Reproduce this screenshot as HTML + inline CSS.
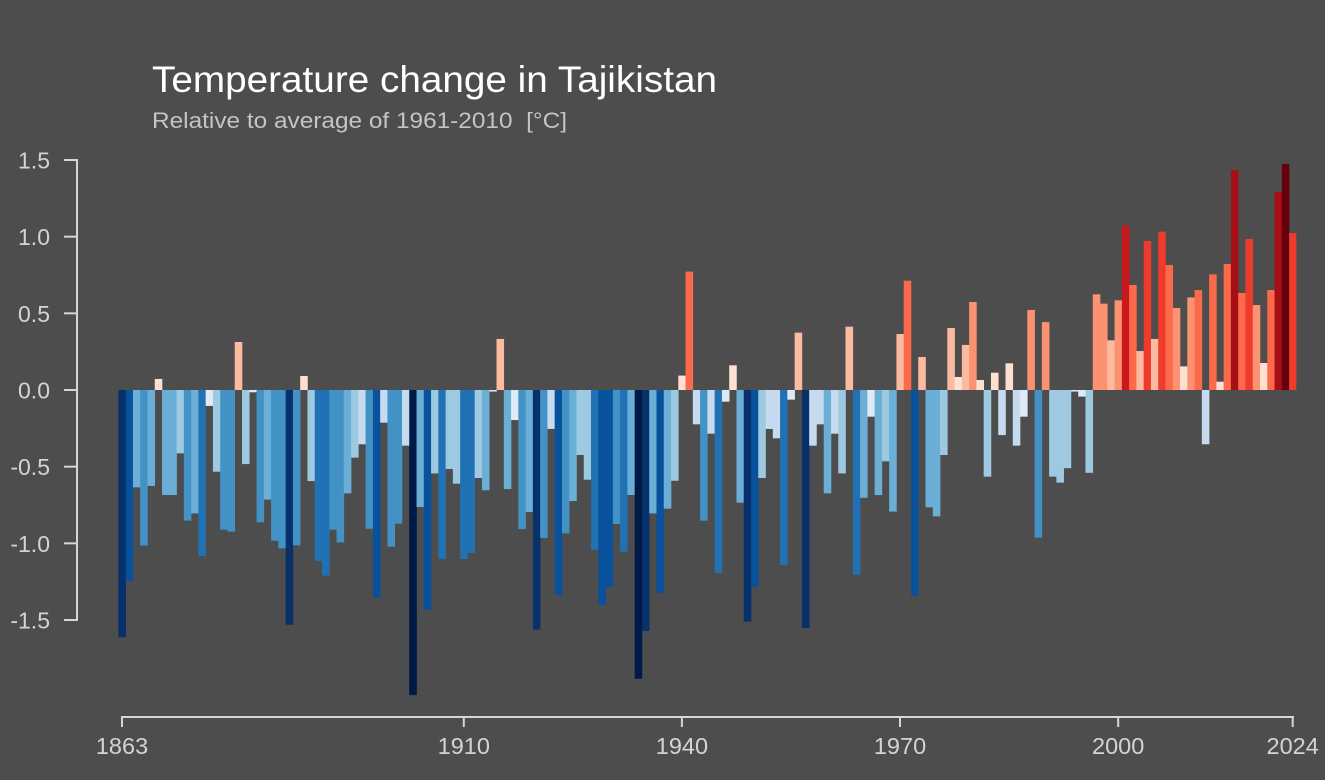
<!DOCTYPE html>
<html>
<head>
<meta charset="utf-8">
<style>
  html, body { margin: 0; padding: 0; background: #4d4d4d; }
  body { width: 1325px; height: 780px; overflow: hidden; }
  svg { display: block; }
  text { font-family: "Liberation Sans", Arial, sans-serif; }
</style>
</head>
<body>
<svg width="1325" height="780" viewBox="0 0 1325 780" xmlns="http://www.w3.org/2000/svg">
  <rect x="0" y="0" width="1325" height="780" fill="#4d4d4d"/>

  <!-- Title -->
  <text x="152" y="92" font-size="37" fill="#ffffff" textLength="565" lengthAdjust="spacingAndGlyphs">Temperature change in Tajikistan</text>
  <text x="152" y="128" font-size="22" fill="#c4c4c4" textLength="415" lengthAdjust="spacingAndGlyphs" xml:space="preserve">Relative to average of 1961-2010  [°C]</text>

  <!-- Bars -->
  <g transform="translate(118.4,390) scale(7.2714,-153.33)">
    <rect x="0" y="-1.613" width="1.04" height="1.613" fill="#08306b"/>
    <rect x="1" y="-1.246" width="1.04" height="1.246" fill="#08519c"/>
    <rect x="2" y="-0.635" width="1.04" height="0.635" fill="#6baed6"/>
    <rect x="3" y="-1.015" width="1.04" height="1.015" fill="#4292c6"/>
    <rect x="4" y="-0.626" width="1.04" height="0.626" fill="#6baed6"/>
    <rect x="5" y="0" width="1.04" height="0.072" fill="#fee0d2"/>
    <rect x="6" y="-0.685" width="1.04" height="0.685" fill="#6baed6"/>
    <rect x="7" y="-0.685" width="1.04" height="0.685" fill="#6baed6"/>
    <rect x="8" y="-0.413" width="1.04" height="0.413" fill="#9ecae1"/>
    <rect x="9" y="-0.852" width="1.04" height="0.852" fill="#4292c6"/>
    <rect x="10" y="-0.805" width="1.04" height="0.805" fill="#6baed6"/>
    <rect x="11" y="-1.083" width="1.04" height="1.083" fill="#2171b5"/>
    <rect x="12" y="-0.104" width="1.04" height="0.104" fill="#deebf7"/>
    <rect x="13" y="-0.533" width="1.04" height="0.533" fill="#9ecae1"/>
    <rect x="14" y="-0.911" width="1.04" height="0.911" fill="#4292c6"/>
    <rect x="15" y="-0.924" width="1.04" height="0.924" fill="#4292c6"/>
    <rect x="16" y="0" width="1.04" height="0.313" fill="#fcbba1"/>
    <rect x="17" y="-0.483" width="1.04" height="0.483" fill="#9ecae1"/>
    <rect x="18" y="-0.015" width="1.04" height="0.015" fill="#deebf7"/>
    <rect x="19" y="-0.863" width="1.04" height="0.863" fill="#4292c6"/>
    <rect x="20" y="-0.715" width="1.04" height="0.715" fill="#6baed6"/>
    <rect x="21" y="-0.983" width="1.04" height="0.983" fill="#4292c6"/>
    <rect x="22" y="-1.033" width="1.04" height="1.033" fill="#4292c6"/>
    <rect x="23" y="-1.531" width="1.04" height="1.531" fill="#08306b"/>
    <rect x="24" y="-1.013" width="1.04" height="1.013" fill="#4292c6"/>
    <rect x="25" y="0" width="1.04" height="0.091" fill="#fee0d2"/>
    <rect x="26" y="-0.594" width="1.04" height="0.594" fill="#9ecae1"/>
    <rect x="27" y="-1.115" width="1.04" height="1.115" fill="#2171b5"/>
    <rect x="28" y="-1.211" width="1.04" height="1.211" fill="#2171b5"/>
    <rect x="29" y="-0.911" width="1.04" height="0.911" fill="#4292c6"/>
    <rect x="30" y="-0.994" width="1.04" height="0.994" fill="#4292c6"/>
    <rect x="31" y="-0.674" width="1.04" height="0.674" fill="#6baed6"/>
    <rect x="32" y="-0.441" width="1.04" height="0.441" fill="#9ecae1"/>
    <rect x="33" y="-0.354" width="1.04" height="0.354" fill="#c6dbef"/>
    <rect x="34" y="-0.905" width="1.04" height="0.905" fill="#4292c6"/>
    <rect x="35" y="-1.353" width="1.04" height="1.353" fill="#08519c"/>
    <rect x="36" y="-0.213" width="1.04" height="0.213" fill="#c6dbef"/>
    <rect x="37" y="-1.022" width="1.04" height="1.022" fill="#4292c6"/>
    <rect x="38" y="-0.872" width="1.04" height="0.872" fill="#4292c6"/>
    <rect x="39" y="-0.363" width="1.04" height="0.363" fill="#c6dbef"/>
    <rect x="40" y="-1.990" width="1.04" height="1.990" fill="#001a47"/>
    <rect x="41" y="-0.763" width="1.04" height="0.763" fill="#6baed6"/>
    <rect x="42" y="-1.433" width="1.04" height="1.433" fill="#08519c"/>
    <rect x="43" y="-0.544" width="1.04" height="0.544" fill="#9ecae1"/>
    <rect x="44" y="-1.102" width="1.04" height="1.102" fill="#2171b5"/>
    <rect x="45" y="-0.515" width="1.04" height="0.515" fill="#9ecae1"/>
    <rect x="46" y="-0.611" width="1.04" height="0.611" fill="#9ecae1"/>
    <rect x="47" y="-1.102" width="1.04" height="1.102" fill="#2171b5"/>
    <rect x="48" y="-1.063" width="1.04" height="1.063" fill="#2171b5"/>
    <rect x="49" y="-0.574" width="1.04" height="0.574" fill="#9ecae1"/>
    <rect x="50" y="-0.654" width="1.04" height="0.654" fill="#6baed6"/>
    <rect x="51" y="-0.010" width="1.04" height="0.010" fill="#deebf7"/>
    <rect x="52" y="0" width="1.04" height="0.333" fill="#fcbba1"/>
    <rect x="53" y="-0.646" width="1.04" height="0.646" fill="#6baed6"/>
    <rect x="54" y="-0.196" width="1.04" height="0.196" fill="#deebf7"/>
    <rect x="55" y="-0.907" width="1.04" height="0.907" fill="#4292c6"/>
    <rect x="56" y="-0.796" width="1.04" height="0.796" fill="#6baed6"/>
    <rect x="57" y="-1.563" width="1.04" height="1.563" fill="#08306b"/>
    <rect x="58" y="-0.965" width="1.04" height="0.965" fill="#4292c6"/>
    <rect x="59" y="-0.254" width="1.04" height="0.254" fill="#c6dbef"/>
    <rect x="60" y="-1.335" width="1.04" height="1.335" fill="#08519c"/>
    <rect x="61" y="-0.935" width="1.04" height="0.935" fill="#4292c6"/>
    <rect x="62" y="-0.724" width="1.04" height="0.724" fill="#6baed6"/>
    <rect x="63" y="-0.424" width="1.04" height="0.424" fill="#9ecae1"/>
    <rect x="64" y="-0.585" width="1.04" height="0.585" fill="#9ecae1"/>
    <rect x="65" y="-1.042" width="1.04" height="1.042" fill="#2171b5"/>
    <rect x="66" y="-1.402" width="1.04" height="1.402" fill="#08519c"/>
    <rect x="67" y="-1.285" width="1.04" height="1.285" fill="#08519c"/>
    <rect x="68" y="-0.874" width="1.04" height="0.874" fill="#4292c6"/>
    <rect x="69" y="-1.054" width="1.04" height="1.054" fill="#2171b5"/>
    <rect x="70" y="-0.685" width="1.04" height="0.685" fill="#6baed6"/>
    <rect x="71" y="-1.883" width="1.04" height="1.883" fill="#001a47"/>
    <rect x="72" y="-1.572" width="1.04" height="1.572" fill="#08306b"/>
    <rect x="73" y="-0.805" width="1.04" height="0.805" fill="#6baed6"/>
    <rect x="74" y="-1.322" width="1.04" height="1.322" fill="#08519c"/>
    <rect x="75" y="-0.774" width="1.04" height="0.774" fill="#6baed6"/>
    <rect x="76" y="-0.592" width="1.04" height="0.592" fill="#9ecae1"/>
    <rect x="77" y="0" width="1.04" height="0.094" fill="#fee0d2"/>
    <rect x="78" y="0" width="1.04" height="0.772" fill="#fb6a4a"/>
    <rect x="79" y="-0.224" width="1.04" height="0.224" fill="#c6dbef"/>
    <rect x="80" y="-0.852" width="1.04" height="0.852" fill="#4292c6"/>
    <rect x="81" y="-0.285" width="1.04" height="0.285" fill="#c6dbef"/>
    <rect x="82" y="-1.194" width="1.04" height="1.194" fill="#2171b5"/>
    <rect x="83" y="-0.076" width="1.04" height="0.076" fill="#deebf7"/>
    <rect x="84" y="0" width="1.04" height="0.161" fill="#fee0d2"/>
    <rect x="85" y="-0.735" width="1.04" height="0.735" fill="#6baed6"/>
    <rect x="86" y="-1.511" width="1.04" height="1.511" fill="#08306b"/>
    <rect x="87" y="-1.285" width="1.04" height="1.285" fill="#08519c"/>
    <rect x="88" y="-0.574" width="1.04" height="0.574" fill="#9ecae1"/>
    <rect x="89" y="-0.254" width="1.04" height="0.254" fill="#c6dbef"/>
    <rect x="90" y="-0.315" width="1.04" height="0.315" fill="#c6dbef"/>
    <rect x="91" y="-1.141" width="1.04" height="1.141" fill="#2171b5"/>
    <rect x="92" y="-0.063" width="1.04" height="0.063" fill="#deebf7"/>
    <rect x="93" y="0" width="1.04" height="0.374" fill="#fcbba1"/>
    <rect x="94" y="-1.552" width="1.04" height="1.552" fill="#08306b"/>
    <rect x="95" y="-0.363" width="1.04" height="0.363" fill="#c6dbef"/>
    <rect x="96" y="-0.224" width="1.04" height="0.224" fill="#c6dbef"/>
    <rect x="97" y="-0.674" width="1.04" height="0.674" fill="#6baed6"/>
    <rect x="98" y="-0.285" width="1.04" height="0.285" fill="#c6dbef"/>
    <rect x="99" y="-0.544" width="1.04" height="0.544" fill="#9ecae1"/>
    <rect x="100" y="0" width="1.04" height="0.413" fill="#fcbba1"/>
    <rect x="101" y="-1.205" width="1.04" height="1.205" fill="#2171b5"/>
    <rect x="102" y="-0.703" width="1.04" height="0.703" fill="#6baed6"/>
    <rect x="103" y="-0.174" width="1.04" height="0.174" fill="#deebf7"/>
    <rect x="104" y="-0.685" width="1.04" height="0.685" fill="#6baed6"/>
    <rect x="105" y="-0.465" width="1.04" height="0.465" fill="#9ecae1"/>
    <rect x="106" y="-0.793" width="1.04" height="0.793" fill="#6baed6"/>
    <rect x="107" y="0" width="1.04" height="0.365" fill="#fcbba1"/>
    <rect x="108" y="0" width="1.04" height="0.713" fill="#fb6a4a"/>
    <rect x="109" y="-1.341" width="1.04" height="1.341" fill="#08519c"/>
    <rect x="110" y="0" width="1.04" height="0.215" fill="#fcbba1"/>
    <rect x="111" y="-0.765" width="1.04" height="0.765" fill="#6baed6"/>
    <rect x="112" y="-0.824" width="1.04" height="0.824" fill="#6baed6"/>
    <rect x="113" y="-0.424" width="1.04" height="0.424" fill="#9ecae1"/>
    <rect x="114" y="0" width="1.04" height="0.404" fill="#fcbba1"/>
    <rect x="115" y="0" width="1.04" height="0.085" fill="#fee0d2"/>
    <rect x="116" y="0" width="1.04" height="0.294" fill="#fcbba1"/>
    <rect x="117" y="0" width="1.04" height="0.574" fill="#fc9272"/>
    <rect x="118" y="0" width="1.04" height="0.065" fill="#fee0d2"/>
    <rect x="119" y="-0.565" width="1.04" height="0.565" fill="#9ecae1"/>
    <rect x="120" y="0" width="1.04" height="0.113" fill="#fee0d2"/>
    <rect x="121" y="-0.294" width="1.04" height="0.294" fill="#c6dbef"/>
    <rect x="122" y="0" width="1.04" height="0.174" fill="#fee0d2"/>
    <rect x="123" y="-0.363" width="1.04" height="0.363" fill="#c6dbef"/>
    <rect x="124" y="-0.174" width="1.04" height="0.174" fill="#deebf7"/>
    <rect x="125" y="0" width="1.04" height="0.522" fill="#fc9272"/>
    <rect x="126" y="-0.963" width="1.04" height="0.963" fill="#4292c6"/>
    <rect x="127" y="0" width="1.04" height="0.443" fill="#fc9272"/>
    <rect x="128" y="-0.565" width="1.04" height="0.565" fill="#9ecae1"/>
    <rect x="129" y="-0.604" width="1.04" height="0.604" fill="#9ecae1"/>
    <rect x="130" y="-0.510" width="1.04" height="0.510" fill="#9ecae1"/>
    <rect x="131" y="-0.010" width="1.04" height="0.010" fill="#deebf7"/>
    <rect x="132" y="-0.043" width="1.04" height="0.043" fill="#deebf7"/>
    <rect x="133" y="-0.540" width="1.04" height="0.540" fill="#9ecae1"/>
    <rect x="134" y="0" width="1.04" height="0.624" fill="#fc9272"/>
    <rect x="135" y="0" width="1.04" height="0.563" fill="#fc9272"/>
    <rect x="136" y="0" width="1.04" height="0.324" fill="#fcbba1"/>
    <rect x="137" y="0" width="1.04" height="0.585" fill="#fc9272"/>
    <rect x="138" y="0" width="1.04" height="1.072" fill="#cb181d"/>
    <rect x="139" y="0" width="1.04" height="0.685" fill="#fb6a4a"/>
    <rect x="140" y="0" width="1.04" height="0.254" fill="#fcbba1"/>
    <rect x="141" y="0" width="1.04" height="0.972" fill="#ef3b2c"/>
    <rect x="142" y="0" width="1.04" height="0.333" fill="#fcbba1"/>
    <rect x="143" y="0" width="1.04" height="1.033" fill="#ef3b2c"/>
    <rect x="144" y="0" width="1.04" height="0.815" fill="#fb6a4a"/>
    <rect x="145" y="0" width="1.04" height="0.535" fill="#fc9272"/>
    <rect x="146" y="0" width="1.04" height="0.154" fill="#fee0d2"/>
    <rect x="147" y="0" width="1.04" height="0.604" fill="#fc9272"/>
    <rect x="148" y="0" width="1.04" height="0.652" fill="#fb6a4a"/>
    <rect x="149" y="-0.354" width="1.04" height="0.354" fill="#c6dbef"/>
    <rect x="150" y="0" width="1.04" height="0.754" fill="#fb6a4a"/>
    <rect x="151" y="0" width="1.04" height="0.054" fill="#fee0d2"/>
    <rect x="152" y="0" width="1.04" height="0.822" fill="#fb6a4a"/>
    <rect x="153" y="0" width="1.04" height="1.435" fill="#a50f15"/>
    <rect x="154" y="0" width="1.04" height="0.633" fill="#fb6a4a"/>
    <rect x="155" y="0" width="1.04" height="0.985" fill="#ef3b2c"/>
    <rect x="156" y="0" width="1.04" height="0.554" fill="#fc9272"/>
    <rect x="157" y="0" width="1.04" height="0.176" fill="#fee0d2"/>
    <rect x="158" y="0" width="1.04" height="0.652" fill="#fb6a4a"/>
    <rect x="159" y="0" width="1.04" height="1.291" fill="#a50f15"/>
    <rect x="160" y="0" width="1.04" height="1.474" fill="#67000d"/>
    <rect x="161" y="0" width="1.00" height="1.024" fill="#ef3b2c"/>
  </g>

  <!-- Y axis -->
  <g stroke="#d6d6d6" stroke-width="2" fill="none">
    <line x1="77" y1="159" x2="77" y2="621"/>
    <line x1="64" y1="160" x2="78" y2="160"/>
    <line x1="64" y1="236.67" x2="78" y2="236.67"/>
    <line x1="64" y1="313.33" x2="78" y2="313.33"/>
    <line x1="64" y1="390" x2="78" y2="390"/>
    <line x1="64" y1="466.67" x2="78" y2="466.67"/>
    <line x1="64" y1="543.33" x2="78" y2="543.33"/>
    <line x1="64" y1="620" x2="78" y2="620"/>
  </g>
  <g font-size="23" fill="#d4d4d4" text-anchor="end">
    <text x="50" y="168.5">1.5</text>
    <text x="50" y="245.2">1.0</text>
    <text x="50" y="321.8">0.5</text>
    <text x="50" y="398.5">0.0</text>
    <text x="50" y="475.2">-0.5</text>
    <text x="50" y="551.8">-1.0</text>
    <text x="50" y="628.5">-1.5</text>
  </g>

  <!-- X axis -->
  <g stroke="#d6d6d6" stroke-width="2" fill="none">
    <line x1="121" y1="717" x2="1294" y2="717"/>
    <line x1="122" y1="716" x2="122" y2="727"/>
    <line x1="463.8" y1="716" x2="463.8" y2="727"/>
    <line x1="681.9" y1="716" x2="681.9" y2="727"/>
    <line x1="900" y1="716" x2="900" y2="727"/>
    <line x1="1118.2" y1="716" x2="1118.2" y2="727"/>
    <line x1="1292.7" y1="716" x2="1292.7" y2="727"/>
  </g>
  <g font-size="23.5" fill="#d4d4d4" text-anchor="middle">
    <text x="122" y="754">1863</text>
    <text x="463.8" y="754">1910</text>
    <text x="681.9" y="754">1940</text>
    <text x="900" y="754">1970</text>
    <text x="1118.2" y="754">2000</text>
    <text x="1292.7" y="754">2024</text>
  </g>
</svg>
</body>
</html>
